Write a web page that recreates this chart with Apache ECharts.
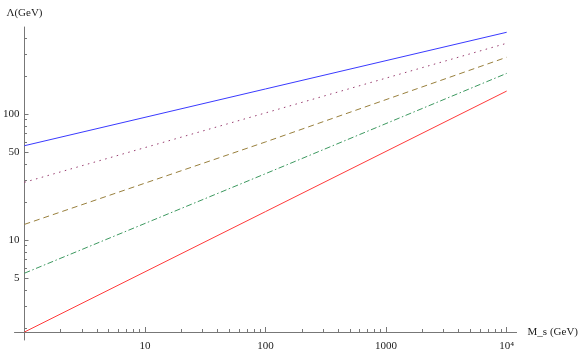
<!DOCTYPE html>
<html>
<head>
<meta charset="utf-8">
<script src="https://cdn.jsdelivr.net/npm/echarts@6/dist/echarts.min.js"></script>
<style>
    html, body { margin: 0; padding: 0; background: #fff; }
    #chart { width: 581px; height: 353px; }
</style>
</head>
<body>
<div id="chart"></div>
<script>
var massPoints = [1, 100, 10000];
// Lambda (GeV) for each curve, read at the mass points above
var blueSolid = [56, 158, 445];
var purpleDotted = [28.7, 102, 364];
var oliveDashed = [13.3, 60, 282];
var greenDashDot = [5.45, 33.6, 210];
var redSolid = [1.86, 16.8, 152];

// tick values
var xMajorTicks = [10, 100, 1000, 10000];
var xMinorTicks = [2, 3, 4, 5, 6, 7, 8, 9, 20, 30, 40, 50, 60, 70, 80, 90,
    200, 300, 400, 500, 600, 700, 800, 900, 2000, 3000, 4000, 5000, 6000, 7000, 8000, 9000];
var yMajorTicks = [5, 10, 50, 100];
var yMinorTicks = [2, 3, 4, 6, 7, 8, 9, 20, 30, 40, 60, 70, 80, 90, 200, 300, 400];

(function(global) {
    function LogPlot() {
        var that = this;
        var font = 'Liberation Serif';
        var axisColor = '#777';

        that.init = function() {
            var chart = echarts.init(document.getElementById('chart'));
            chart.setOption(that.buildOption());
        };

        that.pairs = function(ys) {
            var out = [];
            for (var i = 0; i < massPoints.length; i++) {
                out.push([massPoints[i], ys[i]]);
            }
            return out;
        };

        that.line = function(ys, color, type) {
            return {
                type: 'line',
                data: that.pairs(ys),
                symbol: 'none',
                silent: true,
                lineStyle: { color: color, width: 1, type: type }
            };
        };

        that.xAxisBase = function(ticks, len, main) {
            return {
                type: 'log',
                min: 0.827,
                max: 12085,
                position: 'bottom',
                offset: -8,
                axisLine: { show: main, onZero: false, lineStyle: { color: axisColor, width: 1 } },
                axisTick: { show: true, inside: true, length: len, customValues: ticks, lineStyle: { color: axisColor } },
                axisLabel: {
                    show: main,
                    customValues: ticks,
                    margin: 9,
                    color: '#222',
                    fontFamily: font,
                    fontSize: 11,
                    formatter: function(v) { return v === 10000 ? '10\u2074' : String(v); }
                },
                splitLine: { show: false },
                minorTick: { show: false },
                name: main ? 'M_s (GeV)' : '',
                nameLocation: 'end',
                nameGap: 11,
                nameTextStyle: { color: '#222', fontFamily: font, fontSize: 11, padding: [4, 0, 0, 0] }
            };
        };

        that.yAxisBase = function(ticks, len, main) {
            return {
                type: 'log',
                min: 1.608,
                max: 490,
                position: 'left',
                offset: -10,
                axisLine: { show: main, onZero: false, lineStyle: { color: axisColor, width: 1 } },
                axisTick: { show: true, inside: true, length: len, customValues: ticks, lineStyle: { color: axisColor } },
                axisLabel: {
                    show: main,
                    customValues: ticks,
                    margin: 5,
                    color: '#222',
                    fontFamily: font,
                    fontSize: 11
                },
                splitLine: { show: false },
                minorTick: { show: false },
                name: main ? '\u039B(GeV)' : '',
                nameLocation: 'end',
                nameGap: 8,
                nameTextStyle: { color: '#222', fontFamily: font, fontSize: 11 }
            };
        };

        that.buildOption = function() {
            return {
                animation: false,
                backgroundColor: '#fff',
                grid: { left: 11, right: 64, top: 27, bottom: 13, containLabel: false },
                xAxis: [
                    that.xAxisBase(xMajorTicks, 5, true),
                    that.xAxisBase(xMinorTicks, 3, false)
                ],
                yAxis: [
                    that.yAxisBase(yMajorTicks, 4, true),
                    that.yAxisBase(yMinorTicks, 2.5, false)
                ],
                series: [
                    that.line(blueSolid, '#3a3aff', 'solid'),
                    that.line(purpleDotted, '#993d70', [1.5, 4.5]),
                    that.line(oliveDashed, '#99803d', [6, 4]),
                    that.line(greenDashDot, '#3d9960', [6, 2.5, 1.5, 2.5]),
                    that.line(redSolid, '#ff3a3a', 'solid')
                ]
            };
        };
    }
    global.LogPlot = new LogPlot();
})(this);

LogPlot.init();
</script>
</body>
</html>
